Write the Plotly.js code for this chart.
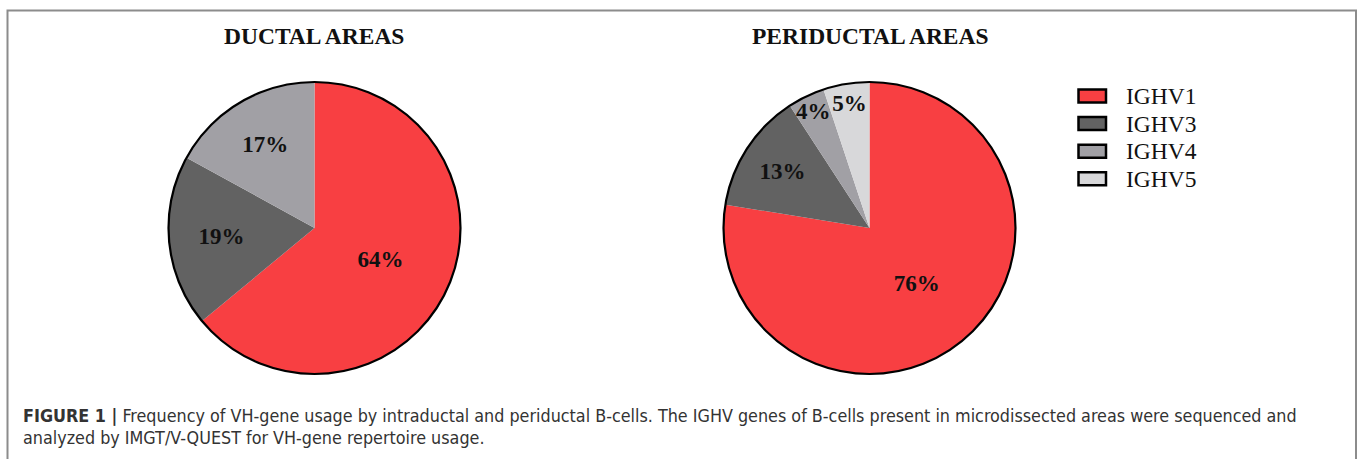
<!DOCTYPE html>
<html>
<head>
<meta charset="utf-8">
<script src="https://cdn.plot.ly/plotly-3.0.1.min.js"></script>
<style>html,body{margin:0;padding:0;background:#fff;}#chart{width:1357px;height:459px;}</style>
</head>
<body>
<div id="chart"></div>
<script>
// ---- data ----
var ductalLabels = ["IGHV1", "IGHV3", "IGHV4"];
var ductalValues = [64, 19, 17];
var periLabels = ["IGHV1", "IGHV3", "IGHV4", "IGHV5"];
var periValues = [76, 13, 4, 5];
var legendLabels = ["IGHV1", "IGHV3", "IGHV4", "IGHV5"];
var chartTitles = ["DUCTAL AREAS", "PERIDUCTAL AREAS"];
var captionBold = "FIGURE 1 |";
var captionLine1 = " Frequency of VH-gene usage by intraductal and periductal B-cells. The IGHV genes of B-cells present in microdissected areas were sequenced and";
var captionLine2 = "analyzed by IMGT/V-QUEST for VH-gene repertoire usage.";

// ---- styling ----
var W = 1357, H = 459;
var colorMap = {IGHV1: "#f83f42", IGHV3: "#626262", IGHV4: "#a1a0a5", IGHV5: "#d8d8da"};
function px(x){ return x / W; }
function py(y){ return 1 - y / H; }
var R = 146;
var centers = [[314.5, 228], [869.5, 228]];
function dom(c){ return {x: [px(c[0]-R), px(c[0]+R)], y: [py(c[1]+R), py(c[1]-R)]}; }

var serif = "Liberation Serif, Times New Roman, serif";
var labelFont = {family: serif, size: 23, color: "#111111"};

function pieTrace(labels, values, c){
  return {
    type: "pie", labels: labels, values: values, domain: dom(c),
    sort: false, direction: "clockwise", rotation: 0,
    marker: {colors: labels.map(function(l){return colorMap[l];}), line: {width: 0}},
    texttemplate: "<b>%{value}%</b>", textposition: "inside",
    insidetextorientation: "horizontal", textfont: labelFont,
    hoverinfo: "label+percent", showlegend: false
  };
}
function ringTrace(c){
  return {
    type: "pie", values: [1], labels: ["ring"], domain: dom(c),
    marker: {colors: ["rgba(0,0,0,0)"], line: {color: "#000000", width: 2.2}},
    textinfo: "none", hoverinfo: "skip", showlegend: false
  };
}

var data = [
  pieTrace(ductalLabels, ductalValues, centers[0]),
  pieTrace(periLabels, periValues, centers[1]),
  ringTrace(centers[0]),
  ringTrace(centers[1])
];

var shapes = [
  {type: "rect", xref: "paper", yref: "paper", x0: px(7.5), x1: px(1356), y0: py(480), y1: py(10.5),
   line: {color: "#8c8c8c", width: 2}, fillcolor: "rgba(0,0,0,0)", layer: "below"}
];
var annotations = [];
chartTitles.forEach(function(t, i){
  annotations.push({text: "<b>" + t + "</b>", xref: "paper", yref: "paper",
    x: px(i === 0 ? 313.5 : 870.5), y: py(36), xanchor: "center", yanchor: "middle",
    showarrow: false, font: {family: serif, size: 23.5, color: "#111111"}});
});
legendLabels.forEach(function(l, i){
  var yc = 96 + i * 27.6;
  shapes.push({type: "rect", xref: "paper", yref: "paper",
    x0: px(1078.5), x1: px(1106), y0: py(yc + 6.5), y1: py(yc - 6.5),
    fillcolor: colorMap[l], line: {color: "#000000", width: 2.5}});
  annotations.push({text: l, xref: "paper", yref: "paper", x: px(1124), y: py(yc),
    xanchor: "left", yanchor: "middle", showarrow: false,
    font: {family: serif, size: 23.5, color: "#111111"}});
});
var capFont = {family: "DejaVu Sans Condensed, Arial Narrow, sans-serif", size: 17.8, color: "#333333"};
annotations.push({text: "<b>" + captionBold + "</b>" + captionLine1,
  xref: "paper", yref: "paper", x: px(21), y: py(415), xanchor: "left", yanchor: "middle",
  align: "left", showarrow: false, font: capFont});
annotations.push({text: captionLine2,
  xref: "paper", yref: "paper", x: px(21), y: py(437), xanchor: "left", yanchor: "middle",
  align: "left", showarrow: false, font: capFont});

var layout = {
  width: W, height: H, margin: {l: 0, r: 0, t: 0, b: 0},
  paper_bgcolor: "#ffffff", plot_bgcolor: "#ffffff",
  showlegend: false, shapes: shapes, annotations: annotations,
  uniformtext: {mode: "show", minsize: 23}
};
Plotly.newPlot("chart", data, layout, {displayModeBar: false, staticPlot: true});
</script>
</body>
</html>
